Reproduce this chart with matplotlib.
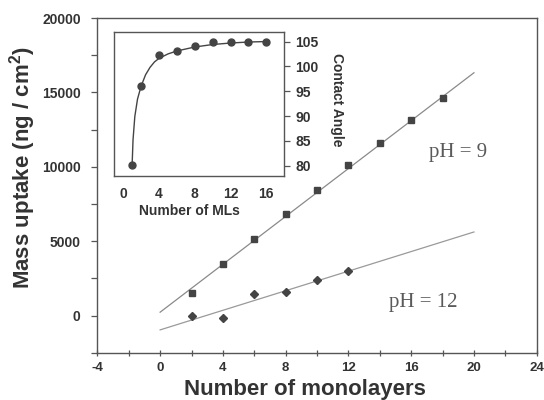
import matplotlib
matplotlib.use('Agg')
import matplotlib.pyplot as plt
from matplotlib.ticker import MultipleLocator

# main plot: mass uptake vs number of monolayers
ml_ph9 = [2, 4, 6, 8, 10, 12, 14, 16, 18]
mass_ph9 = [1540, 3460, 5130, 6850, 8450, 10150, 11570, 13140, 14630]
ml_ph12 = [2, 4, 6, 8, 10, 12]
mass_ph12 = [-40, -175, 1430, 1600, 2390, 2970]

# fitted lines (end points)
fit9_x = [0, 20]
fit9_y = [230, 16320]
fit12_x = [0, 20]
fit12_y = [-960, 5620]

# inset: contact angle vs number of MLs
ml_ca = [1, 2, 4, 6, 8, 10, 12, 14, 16]
contact_angle = [80.2, 96.0, 102.2, 103.0, 104.1, 105.0, 105.0, 105.0, 105.0]
curve_x = [1, 1.1, 1.3, 1.6, 2, 2.5, 3, 3.5, 4, 5, 6, 8, 10, 12, 14, 16]
curve_y = [80.2, 85.2, 89.9, 93.4, 96.0, 98.3, 99.8, 100.9, 101.6, 102.5, 103.1, 103.9, 104.4, 104.7, 104.9, 105.0]

plt.rcParams['axes.unicode_minus'] = False
plt.rcParams['mathtext.fontset'] = 'custom'
plt.rcParams['mathtext.rm'] = 'Liberation Sans:bold'

sans = ['Liberation Sans', 'DejaVu Sans']
serif = ['Liberation Serif', 'DejaVu Serif']
ink = '#333333'
frame = '#555555'

fig = plt.figure(figsize=(5.44, 4.0), dpi=100)
ax = fig.add_axes([0.179, 0.118, 0.8076, 0.837])

ax.plot(fit9_x, fit9_y, color='#8a8a8a', lw=0.9)
ax.plot(fit12_x, fit12_y, color='#9a9a9a', lw=0.9)
ax.plot(ml_ph9, mass_ph9, ls='none', marker='s', ms=4.8, color='#444444')
ax.plot(ml_ph12, mass_ph12, ls='none', marker='D', ms=4.5, color='#444444')

ax.set_xlim(-4, 24)
ax.set_ylim(-2500, 20000)
ax.xaxis.set_major_locator(MultipleLocator(4))
ax.xaxis.set_minor_locator(MultipleLocator(2))
ax.yaxis.set_major_locator(MultipleLocator(5000))
ax.yaxis.set_minor_locator(MultipleLocator(2500))
ax.tick_params(axis='x', which='both', direction='inout', length=5, width=0.9, color=frame,
               pad=4, labelsize=9.5, labelcolor=ink)
ax.tick_params(axis='y', which='both', direction='out', length=4, width=0.9, color=frame,
               pad=8, labelsize=10, labelcolor=ink)
for lab in ax.get_xticklabels() + ax.get_yticklabels():
    lab.set_family(sans)
    lab.set_fontweight('bold')
for sp in ax.spines.values():
    sp.set_color(frame)
    sp.set_linewidth(1.0)

ax.set_xlabel('Number of monolayers', family=sans, fontweight='bold', fontsize=16, color=ink)
ax.xaxis.set_label_coords(0.473, -0.11)
ax.xaxis.label.set_va('center')
ax.set_ylabel('Mass uptake (ng / cm$^2$)', family=sans, fontweight='bold', fontsize=16, color=ink)
ax.yaxis.set_label_coords(-0.171, 0.552)
ax.yaxis.label.set_va('center')

ax.text(19.0, 10950, 'pH = 9', family=serif, fontsize=15, color='#5a5a5a', ha='center', va='center')
ax.text(16.8, 850, 'pH = 12', family=serif, fontsize=15, color='#5a5a5a', ha='center', va='center')

# inset
ins = fig.add_axes([0.210, 0.561, 0.3125, 0.36])
ins.plot(curve_x, curve_y, color='#444444', lw=1.0)
ins.plot(ml_ca, contact_angle, ls='none', marker='o', ms=5, color='#444444')
ins.set_xlim(-1, 18)
ins.set_ylim(78, 107)
ins.set_xticks([0, 4, 8, 12, 16])
ins.set_yticks([80, 85, 90, 95, 100, 105])
ins.yaxis.tick_right()
ins.tick_params(axis='x', length=0, pad=8, labelsize=10, labelcolor=ink)
ins.tick_params(axis='y', direction='out', length=4, width=0.9, color=frame,
                pad=4, labelsize=10, labelcolor=ink)
for lab in ins.get_xticklabels() + ins.get_yticklabels():
    lab.set_family(sans)
    lab.set_fontweight('bold')
for sp in ins.spines.values():
    sp.set_color(frame)
    sp.set_linewidth(1.0)

ins.set_xlabel('Number of MLs', family=sans, fontweight='bold', fontsize=10, color=ink)
ins.xaxis.set_label_coords(0.445, -0.245)
ins.xaxis.label.set_va('center')
ins.yaxis.set_label_position('right')
ins.set_ylabel('Contact Angle', family=sans, fontweight='bold', fontsize=10, color=ink, rotation=270)
ins.yaxis.set_label_coords(1.31, 0.53)
ins.yaxis.label.set_va('center')

fig.savefig('out.png', dpi=100)
